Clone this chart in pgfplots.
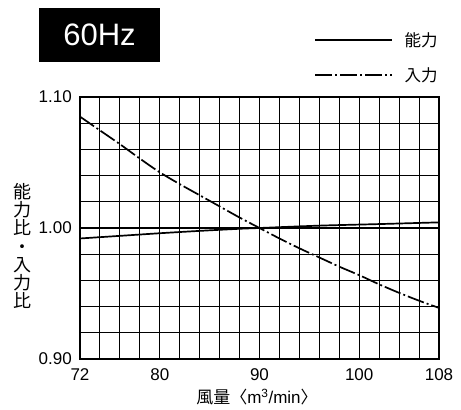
\documentclass[border=0pt]{standalone}
\usepackage{fontspec}
\setmainfont{Liberation Sans}
\newfontfamily\cjk{Noto Sans CJK JP}
\usepackage{pgfplots}
\pgfplotsset{compat=1.18}
\begin{document}
\begin{tikzpicture}[x=1pt,y=1pt]
\path[use as bounding box] (0,0) rectangle (461,410);
\fill[black] (39,348) rectangle (160,402);
\node[text=white, font=\fontsize{31}{31}\selectfont] at (99.5,375) {60Hz};
\begin{axis}[at={(80pt,51pt)}, anchor=south west, scale only axis,
  width=359pt, height=262pt,
  xmin=72, xmax=108, ymin=0.9, ymax=1.1,
  xtick={72,80,90,100,108}, minor xtick={74,76,78,82,84,86,88,92,94,96,98,102,104,106},
  ytick={0.9,1.0,1.1}, minor ytick={0.92,0.94,0.96,0.98,1.02,1.04,1.06,1.08},
  grid=both, grid style={black, line width=1.1pt}, minor grid style={black, line width=1.1pt},
  major tick length=0pt, minor tick length=0pt,
  axis line style={line width=1.2pt},
  tick label style={font=\fontsize{17}{17}\selectfont, inner sep=0pt},
  /pgf/number format/assume math mode=true,
  xticklabel style={yshift=-9pt},
  yticklabel style={xshift=-8pt, /pgf/number format/fixed, /pgf/number format/fixed zerofill, /pgf/number format/precision=2},
]
\addplot[black, line width=1.7pt, smooth] coordinates {
(72,0.992) (76,0.994) (80,0.996) (84,0.9978) (88,0.9994) (90,1.000) (96,1.0018) (102,1.003) (108,1.0043)};
\addplot[black, line width=1.7pt, smooth, dash pattern=on 17pt off 3pt on 2pt off 3pt] coordinates {
(72,1.085) (74,1.0745) (76,1.064) (78,1.053) (80,1.0425) (82,1.0335) (84,1.025) (86,1.0165) (88,1.008) (90,1.000) (92,0.992) (94,0.9845) (96,0.9775) (98,0.9705) (100,0.964) (102,0.957) (104,0.9505) (106,0.9445) (108,0.939)};
\end{axis}
\node[align=center, font=\cjk\fontsize{18}{18.3}\selectfont] at (22,164) {能\\力\\比\\・\\入\\力\\比};
\node[font=\fontsize{17}{17}\selectfont] at (257,13) {{\cjk 風量〈}m\textsuperscript{3}/min{\cjk 〉}};
\draw[line width=1.7pt] (315,370) -- (392,370);
\draw[line width=1.7pt, dash pattern=on 17pt off 3pt on 2pt off 3pt] (315,335) -- (392,335);
\node[anchor=west, font=\cjk\fontsize{16.5}{16.5}\selectfont] at (401,370) {能力};
\node[anchor=west, font=\cjk\fontsize{16.5}{16.5}\selectfont] at (401,335) {入力};
\end{tikzpicture}
\end{document}
